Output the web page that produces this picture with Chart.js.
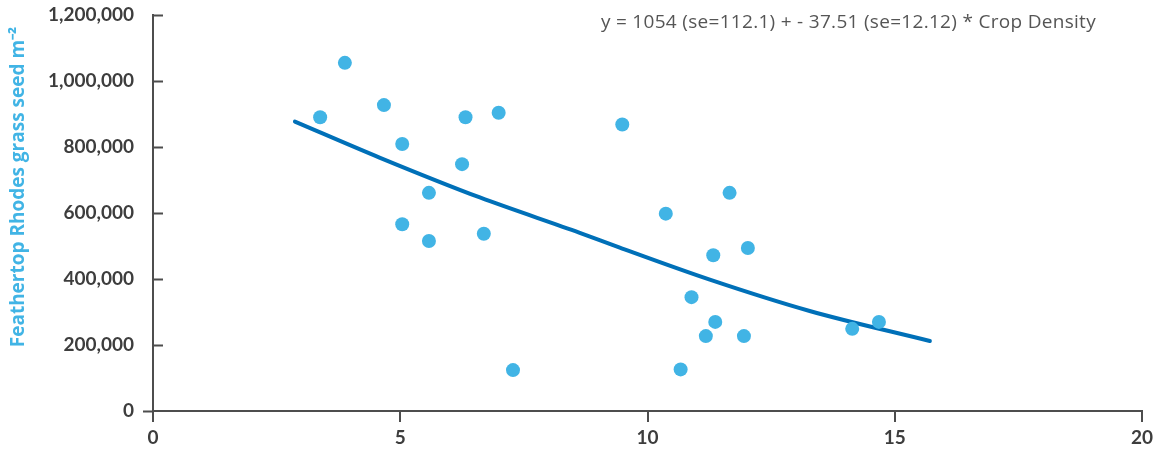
<!DOCTYPE html>
<html>
<head>
<meta charset="utf-8">
<script src="https://cdn.jsdelivr.net/npm/chart.js@4/dist/chart.umd.min.js"></script>
<style>
  html, body { margin: 0; padding: 0; background: #fff; }
  #wrap { width: 1161px; height: 466px; }
</style>
</head>
<body>
<div id="wrap"><canvas id="seedChart" width="1161" height="466"></canvas></div>
<script>
// Crop density vs Feathertop Rhodes grass seed
const cropDensity = [3.38, 3.88, 4.67, 6.32, 6.99, 5.04, 6.25, 5.58, 5.04, 5.58, 6.69, 7.28,
                     9.49, 11.66, 10.37, 12.03, 11.33, 10.89, 11.37, 11.18, 11.95, 10.67, 14.14, 14.68];
const seedCount = [890000, 1055000, 927000, 890000, 904000, 809000, 748000, 661000, 566000, 515000, 537000, 124000,
                   868000, 661000, 598000, 494000, 472000, 345000, 270000, 227000, 227000, 126000, 249000, 270000];

// fitted curve
const fitX = [2.87, 4.58, 6.61, 8.63, 9.44, 11.26, 13.28, 15.71];
const fitY = [877000, 768000, 647000, 540000, 495000, 398000, 303000, 212000];

const xTicks = [0, 5, 10, 15, 20];
const yTicks = [0, 200000, 400000, 600000, 800000, 1000000, 1200000];

const equationText = 'y = 1054 (se=112.1) + - 37.51 (se=12.12) * Crop Density';
const yTitle = 'Feathertop Rhodes grass seed m\u207B\u00B2';

const axisColor = '#4d4d4d';
const labelFont = { family: 'Lato', size: 19, weight: 'bold' };

// y ticks drawn inside the plot, plus equation and axis title
const extras = {
  id: 'extras',
  afterDraw(chart) {
    const { ctx, scales: { y }, chartArea } = chart;
    ctx.save();
    ctx.strokeStyle = axisColor;
    ctx.lineWidth = 2;
    ctx.beginPath();
    yTicks.forEach(v => {
      const py = Math.round(y.getPixelForValue(v)) + 0.5;
      if (v === 0) {
        ctx.moveTo(chartArea.left - 10, py);
        ctx.lineTo(chartArea.left, py);
      } else {
        ctx.moveTo(chartArea.left, py);
        ctx.lineTo(chartArea.left + 10, py);
      }
    });
    ctx.stroke();

    ctx.fillStyle = '#555555';
    ctx.font = '19px "Open Sans"';
    ctx.letterSpacing = '0.3px';
    ctx.textAlign = 'right';
    ctx.textBaseline = 'middle';
    ctx.fillText(equationText, 1096, 23);

    ctx.letterSpacing = '0px';
    ctx.translate(19, 187);
    ctx.rotate(-Math.PI / 2);
    ctx.fillStyle = '#41b4e5';
    ctx.font = 'bold 19px "Open Sans"';
    ctx.textAlign = 'center';
    ctx.fillText(yTitle, 0, 0);
    ctx.restore();
  }
};

const ctxSeed = document.getElementById('seedChart').getContext('2d');
new Chart(ctxSeed, {
  type: 'scatter',
  data: {
    datasets: [{
      label: 'Observed',
      data: cropDensity.map((x, i) => ({ x: x, y: seedCount[i] })),
      backgroundColor: '#41b4e5',
      borderWidth: 0,
      pointRadius: 7,
      pointHoverRadius: 7
    }, {
      label: 'Fit',
      data: fitX.map((x, i) => ({ x: x, y: fitY[i] })),
      showLine: true,
      borderColor: '#0070b8',
      borderWidth: 4,
      borderCapStyle: 'round',
      pointRadius: 0,
      cubicInterpolationMode: 'monotone',
      fill: false
    }]
  },
  options: {
    responsive: false,
    animation: false,
    layout: { padding: { top: 15, right: 19, left: 0, bottom: 0 } },
    plugins: {
      legend: { display: false },
      tooltip: { enabled: false }
    },
    scales: {
      x: {
        type: 'linear',
        min: 0,
        max: 20,
        afterBuildTicks: s => { s.ticks = xTicks.map(v => ({ value: v })); },
        afterFit: s => { s.height = 55; s.paddingLeft = 0; s.paddingRight = 0; },
        border: { color: axisColor, width: 2 },
        grid: { drawOnChartArea: false, tickLength: 11, color: axisColor, lineWidth: 2 },
        ticks: { color: '#3d3d3d', font: labelFont, padding: 4 }
      },
      y: {
        type: 'linear',
        min: 0,
        max: 1200000,
        afterBuildTicks: s => { s.ticks = yTicks.map(v => ({ value: v })); },
        afterFit: s => { s.width = 153; s.paddingTop = 0; s.paddingBottom = 0; },
        border: { color: axisColor, width: 2 },
        grid: { display: false, drawTicks: false },
        ticks: {
          color: '#3d3d3d',
          font: labelFont,
          padding: 19,
          callback: v => v.toLocaleString('en-US')
        }
      }
    }
  },
  plugins: [extras]
});
</script>
</body>
</html>
